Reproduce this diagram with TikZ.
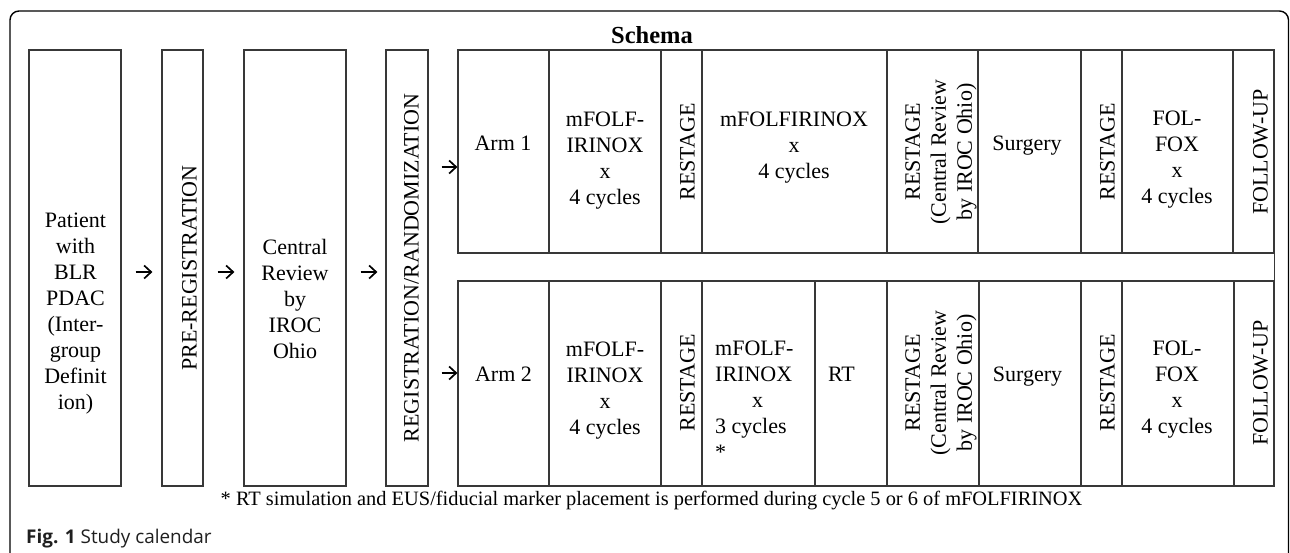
\documentclass[tikz,border=0pt]{standalone}
\usepackage{fontspec}
\setmainfont{Liberation Serif}
\newfontfamily\capfont{Open Sans}
\usetikzlibrary{arrows.meta}
\definecolor{linec}{HTML}{383838}

\begin{document}
\begin{tikzpicture}[x=1pt,y=-1pt]

\tikzset{box/.style = {draw=linec, line width=1.2pt, inner sep=0pt}}
\tikzset{txt/.style = {align=center, inner sep=0pt, font=\fontsize{22}{26}\selectfont}}
\tikzset{vtxt/.style = {txt, rotate=90}}
\tikzset{edge/.style = {-{Straight Barb[length=7pt,width=13pt]}, line width=1.7pt}}

\useasboundingbox (0,0) rectangle (1290,552);

% frame
\draw[line width=1.4pt, rounded corners=9pt] (10,580) -- (10,11) -- (1288.5,11) -- (1288.5,580);

% boxes
\node[box, minimum width=92, minimum height=436] (patient) at (75,268) {};
\node[box, minimum width=41, minimum height=436] (prereg) at (182.5,268) {};
\node[box, minimum width=102, minimum height=436] (central) at (295,268) {};
\node[box, minimum width=42, minimum height=436] (reg) at (407,268) {};

% arm 1 cells
\foreach \n/\cx/\w in {arm/503.5/91, chemo/605/112, rs/681.5/41, chemob/794.5/185,
    rsc/932.5/91, surg/1029.5/103, rsd/1101.5/41, folfox/1177.5/111, fu/1253.5/41}
  \node[box, minimum width=\w, minimum height=203] (a1\n) at (\cx,151.5) {};

% arm 2 cells
\foreach \n/\cx/\w in {arm/503.5/91, chemo/605/112, rs/681.5/41, chemob/758.5/113, rt/851/72,
    rsc/933/92, surg/1030/102, rsd/1101.5/41, folfox/1178/112, fu/1254/40}
  \node[box, minimum width=\w, minimum height=205] (a2\n) at (\cx,383.5) {};

\draw[box] (a1fu.south east) -- (a2fu.north east);

% texts
\node[font=\fontsize{24.5}{28}\selectfont\bfseries, anchor=base] (title) at (652,43.3) {Schema};

\node[txt, anchor=north] (tpatient) at (75.5,213) {Patient\\with\\BLR\\PDAC\\(Inter-\\group\\Definit\\ion)};
\node[vtxt] (tprereg) at (189.5,268) {PRE-REGISTRATION};
\node[txt, anchor=north] (tcentral) at (295,239.5) {Central\\Review\\by\\IROC\\Ohio};
\node[vtxt] (treg) at (411.5,268) {REGISTRATION/RANDOMIZATION};

\node[txt, anchor=base] (t1arm) at (503,150) {Arm 1};
\node[txt, anchor=north] (t1chemo) at (605,111.5) {mFOLF-\\IRINOX\\x\\4 cycles};
\node[vtxt] (t1rs) at (687.5,152) {RESTAGE};
\node[txt, anchor=north] (t1chemob) at (794,111.5) {mFOLFIRINOX\\x\\4 cycles};
\node[vtxt] (t1rsc) at (941,152) {RESTAGE\\(Central Review\\by IROC Ohio)};
\node[txt, anchor=base] (t1surg) at (1027,150) {Surgery};
\node[vtxt] (t1rsd) at (1107.5,152) {RESTAGE};
\node[txt, anchor=north] (t1folfox) at (1177,110.5) {FOL-\\FOX\\x\\4 cycles};
\node[vtxt] (t1fu) at (1260.5,152) {FOLLOW-UP};

\node[txt, anchor=base] (t2arm) at (503.5,381.5) {Arm 2};
\node[txt, anchor=north] (t2chemo) at (605,341.5) {mFOLF-\\IRINOX\\x\\4 cycles};
\node[vtxt] (t2rs) at (687.5,383) {RESTAGE};
\node[txt, anchor=north west, align=left] (t2chemob) at (715,341) {mFOLF-\\IRINOX\\\hspace*{37pt}x\\3 cycles\\*};
\node[txt, anchor=base] (t2rt) at (841.5,381.5) {RT};
\node[vtxt] (t2rsc) at (941,383) {RESTAGE\\(Central Review\\by IROC Ohio)};
\node[txt, anchor=base] (t2surg) at (1027.5,381.5) {Surgery};
\node[vtxt] (t2rsd) at (1107.5,383) {RESTAGE};
\node[txt, anchor=north] (t2folfox) at (1177,340.5) {FOL-\\FOX\\x\\4 cycles};
\node[vtxt] (t2fu) at (1260.5,383) {FOLLOW-UP};

\node[font=\fontsize{20.4}{24}\selectfont, anchor=base west, inner sep=0pt] (note) at (220.5,505)
  {* RT simulation and EUS/fiducial marker placement is performed during cycle 5 or 6 of mFOLFIRINOX};
\node[font=\fontsize{18.9}{22}\capfont, anchor=base west, inner sep=0pt, text=black!88] (caption) at (26,543)
  {\textbf{Fig. 1} Study calendar};

% edges
\coordinate (in1) at ([yshift=-15.5pt]a1arm.west);
\coordinate (in2) at ([yshift=10.5pt]a2arm.west);
\draw[edge, shorten <=14pt, shorten >=9pt] ([yshift=-4pt]patient.east) -- ([yshift=-4pt]prereg.west);
\draw[edge, shorten <=14pt, shorten >=9pt] ([yshift=-4pt]prereg.east) -- ([yshift=-4pt]central.west);
\draw[edge, shorten <=14pt, shorten >=8pt] ([yshift=-4pt]central.east) -- ([yshift=-4pt]reg.west);
\draw[edge, shorten <=13pt] (reg.east |- in1) -- (in1);
\draw[edge, shorten <=13pt] (reg.east |- in2) -- (in2);
\end{tikzpicture}
\end{document}
